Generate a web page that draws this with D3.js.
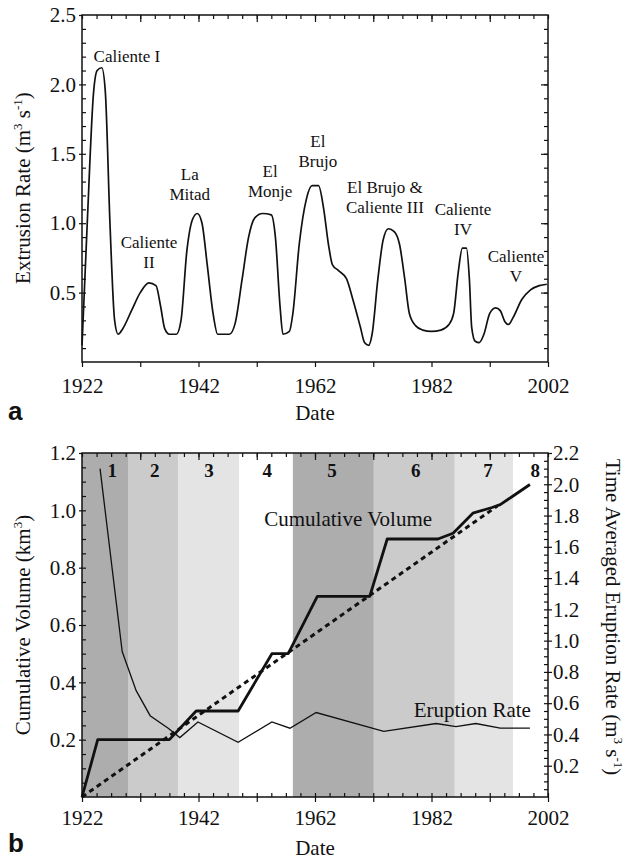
<!DOCTYPE html>
<html>
<head>
<meta charset="utf-8">
<script src="https://cdn.jsdelivr.net/npm/d3@7"></script>
<style>
body { margin: 0; background: #fff; }
text { font-family: "Liberation Serif", "Times New Roman", serif; fill: #111; }
</style>
</head>
<body>
<div id="chart"></div>
<script>
// panel a: extrusion rate
var rateYears = [1922.0, 1922.9, 1924.0, 1924.6, 1925.4, 1926.0, 1926.8, 1927.6, 1928.2, 1929.0, 1930.5, 1932.0, 1933.5, 1934.7, 1935.5, 1936.2, 1937.0, 1938.2, 1939.0, 1940.0, 1941.0, 1941.8, 1942.6, 1943.5, 1944.5, 1945.3, 1947.3, 1948.3, 1949.5, 1950.6, 1951.7, 1953.0, 1954.5, 1955.2, 1956.0, 1956.5, 1957.6, 1958.2, 1959.3, 1960.5, 1961.5, 1962.6, 1963.5, 1964.3, 1965.0, 1966.0, 1967.4, 1968.5, 1969.8, 1970.5, 1971.2, 1971.8, 1972.8, 1973.7, 1974.6, 1975.6, 1976.5, 1977.4, 1978.2, 1979.3, 1980.5, 1982.0, 1983.6, 1985.0, 1985.8, 1986.6, 1987.3, 1988.0, 1988.5, 1988.9, 1989.5, 1990.2, 1991.0, 1992.0, 1993.0, 1993.8, 1994.6, 1995.2, 1996.0, 1997.5, 1999.0, 2000.5, 2001.8];
var rateValues = [0.12, 1.0, 1.95, 2.10, 2.12, 1.95, 1.0, 0.3, 0.2, 0.24, 0.37, 0.50, 0.57, 0.55, 0.4, 0.24, 0.2, 0.2, 0.3, 0.8, 1.03, 1.07, 1.0, 0.7, 0.35, 0.2, 0.2, 0.28, 0.6, 0.9, 1.04, 1.07, 1.06, 0.9, 0.4, 0.2, 0.22, 0.35, 0.85, 1.17, 1.27, 1.27, 1.1, 0.85, 0.7, 0.66, 0.6, 0.45, 0.25, 0.14, 0.12, 0.2, 0.6, 0.88, 0.96, 0.94, 0.85, 0.6, 0.35, 0.26, 0.23, 0.22, 0.23, 0.27, 0.35, 0.65, 0.82, 0.82, 0.6, 0.25, 0.15, 0.14, 0.2, 0.35, 0.39, 0.37, 0.29, 0.27, 0.32, 0.45, 0.52, 0.55, 0.56];

var episodeNames = [["Caliente I"], ["Caliente", "II"], ["La", "Mitad"], ["El", "Monje"], ["El", "Brujo"], ["El Brujo &", "Caliente III"], ["Caliente", "IV"], ["Caliente", "V"]];
var episodeYears = [1929.7, 1933.5, 1940.5, 1954.3, 1962.5, 1974.0, 1987.4, 1996.5];
var episodeLevels = [2.16, 0.82, 1.31, 1.33, 1.55, 1.22, 1.06, 0.72];

// panel b: cumulative volume and time averaged rate
var volYears = [1922, 1924.7, 1937.0, 1941.6, 1948.8, 1954.6, 1957.4, 1962.4, 1971.4, 1974.4, 1983.1, 1985.7, 1989.1, 1992.4, 1993.8, 1996.0, 1998.9];
var volValues = [0, 0.2, 0.2, 0.3, 0.3, 0.5, 0.5, 0.7, 0.7, 0.9, 0.9, 0.92, 0.99, 1.01, 1.02, 1.05, 1.09];
var trendYears = [1922, 1993.3];
var trendValues = [0, 1.015];
var avgYears = [1925.1, 1928.9, 1931.3, 1933.7, 1936.8, 1938.8, 1941.9, 1948.8, 1954.6, 1957.7, 1962.2, 1973.8, 1982.8, 1986.2, 1989.6, 1993.8, 1998.9];
var avgValues = [2.10, 0.93, 0.68, 0.52, 0.44, 0.38, 0.48, 0.35, 0.48, 0.44, 0.54, 0.42, 0.47, 0.45, 0.47, 0.44, 0.44];

var stageEdges = [1922, 1929.9, 1938.5, 1949.0, 1958.2, 1972.1, 1986.0, 1996.0, 2002];
var stageLabels = ["1", "2", "3", "4", "5", "6", "7", "8"];
var stageLabelYears = [1927.2, 1934.5, 1943.8, 1953.8, 1964.9, 1979.3, 1991.7, 1999.8];

var yearTicks = [1922, 1942, 1962, 1982, 2002];
var rateTicks = [0.5, 1.0, 1.5, 2.0, 2.5];
var volTicks = [0.2, 0.4, 0.6, 0.8, 1.0, 1.2];
var avgTicks = [0.2, 0.4, 0.6, 0.8, 1.0, 1.2, 1.4, 1.6, 1.8, 2.0, 2.2];

var width = 629, height = 860;
var stageShades = ["#adadad", "#cbcbcb", "#e4e4e4", "#ffffff"];

var svg = d3.select("#chart").append("svg")
  .attr("width", width)
  .attr("height", height);

var x = d3.scaleLinear().domain([1922, 2002]).range([82, 548]);
var yA = d3.scaleLinear().domain([0, 2.5]).range([362, 15]);
var yV = d3.scaleLinear().domain([0, 1.2]).range([797, 453]);
var yR = d3.scaleLinear().domain([0, 2.2]).range([797, 453]);

function clean(g) {
  g.select(".domain").remove();
  g.selectAll("line").attr("stroke", "#111").attr("stroke-width", 1.2);
  g.attr("font-family", null).attr("font-size", 21);
}

function noLabel(g) { g.selectAll("text").remove(); }

// ---------- panel a ----------
var gA = svg.append("g");

gA.append("path")
  .datum(d3.zip(rateYears, rateValues))
  .attr("fill", "none")
  .attr("stroke", "#111")
  .attr("stroke-width", 1.7)
  .attr("d", d3.line().x(d => x(d[0])).y(d => yA(d[1])).curve(d3.curveMonotoneX));

// bottom axis
gA.append("g")
  .attr("transform", "translate(0,362)")
  .call(d3.axisBottom(x).tickValues(d3.range(1922, 2003, 10)).tickSize(5).tickPadding(11)
    .tickFormat(d => yearTicks.includes(d) ? d : ""))
  .call(clean);
// top axis, inward ticks
gA.append("g")
  .attr("transform", "translate(0,15)")
  .call(d3.axisBottom(x).tickValues(d3.range(1922, 2002.1, 2.5)).tickSize(4)).call(clean).call(noLabel);
gA.append("g")
  .attr("transform", "translate(0,15)")
  .call(d3.axisBottom(x).tickValues(d3.range(1932, 2002, 10)).tickSize(7)).call(clean).call(noLabel);
// left axis
gA.append("g")
  .attr("transform", "translate(82,0)")
  .call(d3.axisLeft(yA).tickValues(rateTicks).tickSize(3).tickPadding(3).tickFormat(d3.format(".1f")))
  .call(clean);
gA.append("g")
  .attr("transform", "translate(82,0)")
  .call(d3.axisRight(yA).tickValues(d3.range(0.1, 2.45, 0.1)).tickSize(4)).call(clean).call(noLabel);
// right axis
gA.append("g")
  .attr("transform", "translate(548,0)")
  .call(d3.axisLeft(yA).tickValues(d3.range(0.1, 2.45, 0.1)).tickSize(4)).call(clean).call(noLabel);
gA.append("g")
  .attr("transform", "translate(548,0)")
  .call(d3.axisLeft(yA).tickValues(rateTicks.slice(0, 4)).tickSize(7)).call(clean).call(noLabel);

gA.append("rect")
  .attr("x", 82).attr("y", 15).attr("width", 466).attr("height", 347)
  .attr("fill", "none").attr("stroke", "#111").attr("stroke-width", 1.5);

// episode labels
var lab = gA.selectAll(".ep")
  .data(episodeNames)
  .join("text")
  .attr("class", "ep")
  .attr("text-anchor", "middle")
  .attr("font-size", 17)
  .attr("x", (d, i) => x(episodeYears[i]))
  .attr("y", (d, i) => yA(episodeLevels[i]));
lab.selectAll("tspan")
  .data(d => d)
  .join("tspan")
  .attr("x", function () { return this.parentNode.getAttribute("x"); })
  .attr("dy", (d, i) => i === 0 ? 0 : 20)
  .text(d => d);

// axis titles
var tA = gA.append("text")
  .attr("transform", "translate(30,188) rotate(-90)")
  .attr("text-anchor", "middle")
  .attr("font-size", 21);
tA.append("tspan").text("Extrusion Rate (m");
tA.append("tspan").attr("dy", -8).attr("font-size", 13).text("3");
tA.append("tspan").attr("dy", 8).text(" s");
tA.append("tspan").attr("dy", -8).attr("font-size", 13).text("-1");
tA.append("tspan").attr("dy", 8).text(")");

gA.append("text").attr("x", 315).attr("y", 420).attr("text-anchor", "middle").attr("font-size", 21).text("Date");
gA.append("text").attr("x", 8).attr("y", 420)
  .style("font-family", "'Liberation Sans', Arial, sans-serif").attr("font-weight", "bold").attr("font-size", 26).text("a");

// ---------- panel b ----------
var gB = svg.append("g");

gB.append("g")
  .selectAll("rect")
  .data(stageLabels)
  .join("rect")
  .attr("x", (d, i) => x(stageEdges[i]))
  .attr("width", (d, i) => x(stageEdges[i + 1]) - x(stageEdges[i]))
  .attr("y", yV(1.2))
  .attr("height", yV(0) - yV(1.2))
  .attr("fill", (d, i) => stageShades[i % 4]);

gB.append("g")
  .selectAll("text")
  .data(stageLabels)
  .join("text")
  .attr("x", (d, i) => x(stageLabelYears[i]))
  .attr("y", 477)
  .attr("text-anchor", "middle")
  .attr("font-weight", "bold")
  .attr("font-size", 19)
  .text(d => d);

gB.append("path")
  .datum(d3.zip(trendYears, trendValues))
  .attr("fill", "none")
  .attr("stroke", "#111")
  .attr("stroke-width", 3)
  .attr("stroke-dasharray", "5,4")
  .attr("d", d3.line().x(d => x(d[0])).y(d => yV(d[1])));

gB.append("path")
  .datum(d3.zip(avgYears, avgValues))
  .attr("fill", "none")
  .attr("stroke", "#111")
  .attr("stroke-width", 1.3)
  .attr("d", d3.line().x(d => x(d[0])).y(d => yR(d[1])));

gB.append("path")
  .datum(d3.zip(volYears, volValues))
  .attr("fill", "none")
  .attr("stroke", "#111")
  .attr("stroke-width", 2.8)
  .attr("stroke-linejoin", "round")
  .attr("d", d3.line().x(d => x(d[0])).y(d => yV(d[1])));

// bottom axis
gB.append("g")
  .attr("transform", "translate(0,797)")
  .call(d3.axisBottom(x).tickValues(d3.range(1922, 2003, 10)).tickSize(5).tickPadding(8)
    .tickFormat(d => yearTicks.includes(d) ? d : ""))
  .call(clean);
gB.append("g")
  .attr("transform", "translate(0,797)")
  .call(d3.axisTop(x).tickValues(d3.range(1922, 2002.1, 2.5)).tickSize(4)).call(clean).call(noLabel);
// top axis
gB.append("g")
  .attr("transform", "translate(0,453)")
  .call(d3.axisBottom(x).tickValues(d3.range(1922, 2002.1, 2.5)).tickSize(4)).call(clean).call(noLabel);
gB.append("g")
  .attr("transform", "translate(0,453)")
  .call(d3.axisBottom(x).tickValues(d3.range(1932, 2002, 10)).tickSize(7)).call(clean).call(noLabel);
// left axis
gB.append("g")
  .attr("transform", "translate(82,0)")
  .call(d3.axisLeft(yV).tickValues(volTicks).tickSize(3).tickPadding(3).tickFormat(d3.format(".1f")))
  .call(clean);
gB.append("g")
  .attr("transform", "translate(82,0)")
  .call(d3.axisRight(yV).tickValues(d3.range(0.05, 1.19, 0.05)).tickSize(4)).call(clean).call(noLabel);
// right axis
gB.append("g")
  .attr("transform", "translate(548,0)")
  .call(d3.axisRight(yR).tickValues(avgTicks).tickSize(4).tickPadding(1).tickFormat(d3.format(".1f")))
  .call(clean)
  .call(g => g.selectAll("text").text(d => "-" + d3.format(".1f")(d)).text(d => d3.format(".1f")(d)));
gB.append("g")
  .attr("transform", "translate(548,0)")
  .call(d3.axisLeft(yR).tickValues(d3.range(0.05, 2.19, 0.05)).tickSize(4)).call(clean).call(noLabel);

gB.append("rect")
  .attr("x", 82).attr("y", 453).attr("width", 466).attr("height", 344)
  .attr("fill", "none").attr("stroke", "#111").attr("stroke-width", 1.5);

gB.append("text")
  .attr("x", x(1967.7)).attr("y", yV(0.946))
  .attr("text-anchor", "middle").attr("font-size", 21)
  .text("Cumulative Volume");
gB.append("text")
  .attr("x", x(1989.0)).attr("y", yR(0.51))
  .attr("text-anchor", "middle").attr("font-size", 21)
  .text("Eruption Rate");

var tB = gB.append("text")
  .attr("transform", "translate(30,625) rotate(-90)")
  .attr("text-anchor", "middle")
  .attr("font-size", 21);
tB.append("tspan").text("Cumulative Volume (km");
tB.append("tspan").attr("dy", -8).attr("font-size", 13).text("3");
tB.append("tspan").attr("dy", 8).text(")");

var tR = gB.append("text")
  .attr("transform", "translate(606,617) rotate(90)")
  .attr("text-anchor", "middle")
  .attr("font-size", 21);
tR.append("tspan").text("Time Averaged Eruption Rate (m");
tR.append("tspan").attr("dy", -8).attr("font-size", 13).text("3");
tR.append("tspan").attr("dy", 8).text(" s");
tR.append("tspan").attr("dy", -8).attr("font-size", 13).text("-1");
tR.append("tspan").attr("dy", 8).text(")");

gB.append("text").attr("x", 315).attr("y", 855).attr("text-anchor", "middle").attr("font-size", 21).text("Date");
gB.append("text").attr("x", 8).attr("y", 852)
  .style("font-family", "'Liberation Sans', Arial, sans-serif").attr("font-weight", "bold").attr("font-size", 26).text("b");
</script>
</body>
</html>
